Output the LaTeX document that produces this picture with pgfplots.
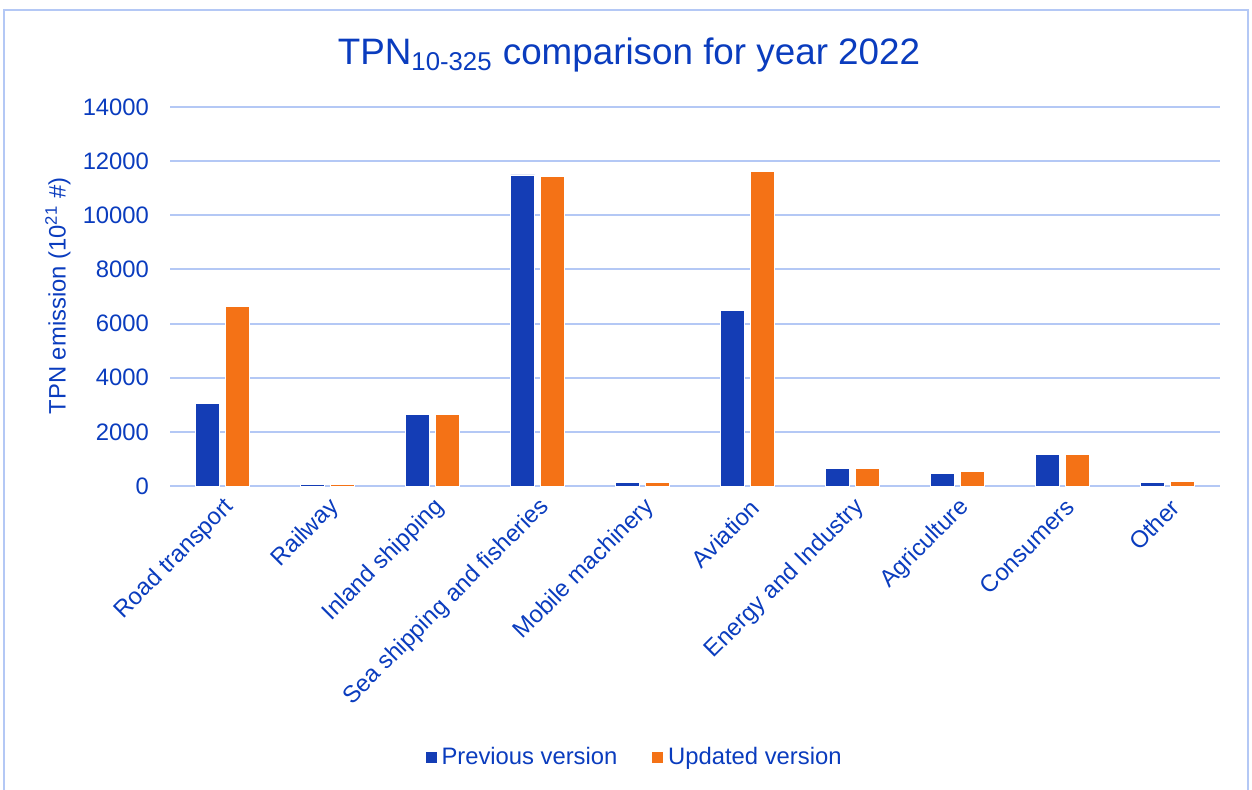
\documentclass[border=0pt]{standalone}
\usepackage{pgfplots}
\pgfplotsset{compat=1.18}
\usepackage{fontspec}
\setmainfont{Liberation Sans}
\definecolor{barblue}{HTML}{143DB5}
\definecolor{barorange}{HTML}{F47216}
\definecolor{txtblue}{HTML}{0A3CBE}
\definecolor{gridblue}{HTML}{B4C8F5}
\begin{document}
\begin{tikzpicture}
\path[use as bounding box] (0pt,0pt) rectangle (626pt,-394.5pt);
\draw[gridblue, line width=1pt] (2pt,-400pt) -- (2pt,-5pt) -- (624pt,-5pt) -- (624pt,-400pt);
\node[txtblue, font=\fontsize{18.4}{22}\selectfont] at (314.5pt,-27.5pt) {TPN\textsubscript{10-325} comparison for year 2022};
\node[txtblue, font=\fontsize{11.9}{14}\selectfont, rotate=90] at (29pt,-148pt) {TPN emission (10\textsuperscript{21} \#)};
\begin{axis}[
  at={(85pt,-243pt)}, anchor=south west,
  scale only axis, width=525pt, height=189.5pt,
  ybar=3pt, bar width=12pt,
  xmin=-0.5, xmax=9.5, ymin=0, ymax=14000,
  ytick={0,2000,...,14000},
  xtick={0,...,9},
  xticklabels={Road transport, Railway, Inland shipping, Sea shipping and fisheries, Mobile machinery, Aviation, Energy and Industry, Agriculture, Consumers, Other},
  x tick label style={rotate=45, anchor=east, font=\fontsize{11.9}{14}\selectfont, text=txtblue, yshift=-9pt, xshift=0pt},
  y tick label style={font=\fontsize{11.9}{14}\selectfont, text=txtblue, xshift=-7pt},
  /pgf/number format/assume math mode=true,
  /pgf/number format/1000 sep={},
  scaled y ticks=false,
  ymajorgrids, grid style={gridblue, line width=1pt},
  major tick length=0pt,
  axis x line*=bottom, axis y line*=left,
  x axis line style={gridblue, line width=1pt, -},
  y axis line style={draw=none},
  legend style={at={(0.443,-0.715)}, anchor=center, draw=none, legend columns=2, font=\fontsize{11.9}{14}\selectfont, text=txtblue, /tikz/every even column/.append style={column sep=15pt}},
  legend image code/.code={\fill[#1] (0pt,-3pt) rectangle (6pt,3pt);},
]
\addplot[fill=barblue, draw=white, line width=0.4pt] coordinates {(0,3060) (1,50) (2,2640) (3,11490) (4,120) (5,6500) (6,635) (7,450) (8,1180) (9,125)};
\addplot[fill=barorange, draw=white, line width=0.4pt] coordinates {(0,6620) (1,50) (2,2640) (3,11450) (4,125) (5,11620) (6,640) (7,522) (8,1170) (9,160)};
\legend{Previous version, Updated version}
\end{axis}
\end{tikzpicture}
\end{document}
